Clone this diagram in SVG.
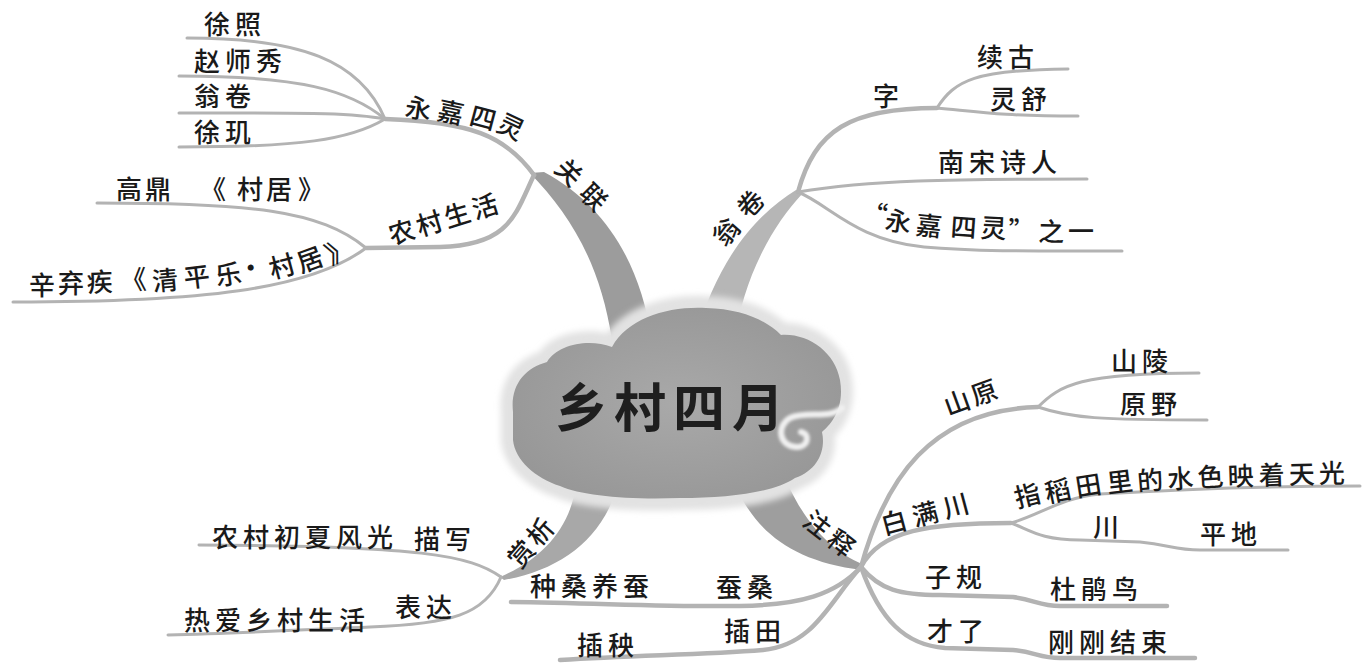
<svg xmlns="http://www.w3.org/2000/svg" width="1363" height="667" viewBox="0 0 1363 667">
<defs>
<style>
text { font-family: "Noto Sans CJK SC", "Noto Sans", sans-serif; fill: #1a1a1a; font-weight: 500; }
.t { font-size: 26px; letter-spacing: 5px; }
.main { font-size: 26px; }
.ln { fill: none; stroke: #b3b3b3; stroke-linecap: round; stroke-linejoin: round; }
.l1 { stroke-width: 4.5; }
.l2 { stroke-width: 3; }
.title { font-size: 52px; letter-spacing: 7px; fill: #1e1e1e; font-weight: 600; }
</style>
<radialGradient id="cg" cx="50%" cy="50%" r="60%">
<stop offset="0" stop-color="#a9a9a9"/>
<stop offset="1" stop-color="#969696"/>
</radialGradient>
<filter id="blur" x="-20%" y="-20%" width="140%" height="140%">
<feGaussianBlur stdDeviation="3"/>
</filter>
<filter id="blur2" x="-20%" y="-20%" width="140%" height="140%">
<feGaussianBlur stdDeviation="1.5"/>
</filter>
</defs>
<rect width="1363" height="667" fill="#ffffff"/>

<g id="connectors">
<!-- main tapered branches -->
<path fill="#9c9c9c" d="M530,173 C570,215 600,262 612,340 L652,340 C640,262 605,205 544,172 Z"/>
<path fill="#b6b6b6" d="M796,190 C760,212 718,255 695,340 L735,340 C742,285 768,230 803,193 Z"/>
<path fill="#9e9e9e" d="M728,465 C745,520 780,560 862,570 L862,564 C830,550 800,520 780,465 Z"/>
<path fill="#a8a8a8" d="M500,577 C540,560 570,530 576,485 L618,485 C602,540 560,570 504,580 Z"/>
<!-- 关联 sub-branches -->
<path class="ln l1" d="M534,175 C505,135 470,122 385,119"/>
<path class="ln l1" d="M534,175 C515,215 510,245 440,247 L366,248"/>
<path class="ln l2" d="M187,38 C300,38 360,60 385,119"/>
<path class="ln l2" d="M179,76 C300,76 350,90 385,119"/>
<path class="ln l2" d="M179,113 C300,113 350,112 385,119"/>
<path class="ln l2" d="M179,147 C300,147 350,140 385,119"/>
<path class="ln l2" d="M97,203 C250,203 320,210 366,248"/>
<path class="ln l2" d="M13,302 C200,302 310,290 366,248"/>
<!-- 翁卷 sub-branches -->
<path class="ln l1" d="M798,192 C815,130 850,108 937,108"/>
<path class="ln l2" d="M937,108 C955,80 975,70 1068,69"/>
<path class="ln l2" d="M937,108 C980,112 1000,116 1078,116"/>
<path class="ln l2" d="M798,192 C870,180 950,179 1087,179"/>
<path class="ln l2" d="M798,192 C830,205 855,240 924,247 C980,252 1050,251 1122,251"/>
<!-- 注释 sub-branches -->
<path class="ln l1" d="M861,567 C885,480 930,410 1038,407"/>
<path class="ln l2" d="M1038,407 C1060,385 1080,373 1199,373"/>
<path class="ln l2" d="M1038,407 C1070,418 1100,420 1207,420"/>
<path class="ln l1" d="M861,567 C880,530 930,523 1011,523"/>
<path class="ln l2" d="M1011,523 C1040,515 1060,498 1100,494 C1200,488 1280,486 1360,486"/>
<path class="ln l2" d="M1011,523 C1030,530 1040,540 1080,540 L1140,542 C1170,545 1175,550 1200,550 L1288,550"/>
<path class="ln l1" d="M861,567 C880,590 900,595 940,595 L1013,597 C1035,600 1040,606 1060,606 L1167,606"/>
<path class="ln l1" d="M861,567 C880,620 905,645 945,648 L1013,650 C1035,652 1040,658 1060,658 L1195,658"/>
<path class="ln l1" d="M861,567 C835,595 800,605 740,606 C660,607 600,603 511,602"/>
<path class="ln l1" d="M861,567 C830,600 815,645 763,650 C700,655 640,655 560,660"/>
<!-- 赏析 sub-branches -->
<path class="ln l2" d="M501,577 C470,555 420,546 199,545"/>
<path class="ln l2" d="M501,577 C485,615 450,624 370,627 C300,630 240,633 168,635"/>
</g>

<g id="center">
<path d="M513,412 C510,385 525,368 547,362 C557,345 588,338 612,347 C628,318 668,306 706,308 C742,309 766,320 781,335 C808,333 835,352 840,380 C845,410 830,425 822,432 C826,450 818,470 795,478 C775,492 730,498 680,498 C630,500 582,496 560,486 C535,478 515,460 513,440 Z" fill="#e2e2e2" stroke="#e2e2e2" stroke-width="24" stroke-linejoin="round" filter="url(#blur)"/>
<path d="M513,412 C510,385 525,368 547,362 C557,345 588,338 612,347 C628,318 668,306 706,308 C742,309 766,320 781,335 C808,333 835,352 840,380 C845,410 830,425 822,432 C826,450 818,470 795,478 C775,492 730,498 680,498 C630,500 582,496 560,486 C535,478 515,460 513,440 Z" fill="url(#cg)"/>
<path d="M842,408 C828,420 808,410 790,418 C776,426 779,446 796,447 C808,448 811,434 801,432" fill="none" stroke="#f0f0f0" stroke-width="6" stroke-linecap="round" filter="url(#blur2)"/>
<text class="title" x="555" y="427">乡村四月</text>
</g>

<g id="n-guanlian"><text class="main" letter-spacing="9" transform="translate(553,170) rotate(45)">关联</text></g>
<g id="n-yongjia"><text class="main" x="404 436 468 495" y="116 119 124 130" rotate="8 12 15 25">永嘉四灵</text></g>
<g id="n-xuzhao"><text class="t" x="204" y="34">徐照</text></g>
<g id="n-zhaoshixiu"><text class="t" x="194" y="71">赵师秀</text></g>
<g id="n-wengjuan2"><text class="t" x="194" y="106">翁卷</text></g>
<g id="n-xuji"><text class="t" x="194" y="142">徐玑</text></g>
<g id="n-nongcun"><text class="main" letter-spacing="3" transform="translate(392,245) rotate(-17)">农村生活</text></g>
<g id="n-gaoding"><text class="t" letter-spacing="0" x="116 145 172 200 237 266 298" y="199">高鼎 《村居》</text></g>
<g id="n-xinqiji"><text class="t" letter-spacing="0" x="29 58 87 121 153 185 217 240 272 301 331" y="295 293 292 290 291 288 286 280 279 273 265" rotate="0 0 -2 -3 -5 -7 -9 -12 -15 -20 -25">辛弃疾《清平乐·村居》</text></g>

<g id="n-wengjuan"><text class="main" letter-spacing="11" transform="translate(725,248) rotate(-49)">翁卷</text></g>
<g id="n-zi"><text class="t" x="873" y="106">字</text></g>
<g id="n-xugu"><text class="t" x="977" y="67">续古</text></g>
<g id="n-lingshu"><text class="t" x="990" y="109">灵舒</text></g>
<g id="n-nansong"><text class="t" x="938" y="172">南宋诗人</text></g>
<g id="n-zhiyi"><text class="t" letter-spacing="0" x="860 884 915 950 980 1008 1038 1068" y="222 229 234 236 237 240 241 241" rotate="8 8 6 4 3 2 1 0">“永嘉四灵”之一</text></g>

<g id="n-zhushi"><text class="main" letter-spacing="4.6" transform="translate(801,524) rotate(38)">注释</text></g>
<g id="n-shanyuan"><text class="main" letter-spacing="3" transform="translate(948,416) rotate(-20)">山原</text></g>
<g id="n-shanling"><text class="t" x="1111" y="371">山陵</text></g>
<g id="n-yuanye"><text class="t" x="1120" y="414">原野</text></g>
<g id="n-baimanchuan"><text class="main" letter-spacing="6" transform="translate(884,535) rotate(-15)">白满川</text></g>
<g id="n-zhidao"><text class="t" letter-spacing="0" x="1017 1047 1077 1108 1138 1168 1198 1228 1259 1289 1319" y="508 503 497 493 491 489 487 486 485 484 483" rotate="-14 -12 -9 -7 -5 -4 -3 -2 -2 -1 -1">指稻田里的水色映着天光</text></g>
<g id="n-chuan"><text class="t" x="1093" y="537">川</text></g>
<g id="n-pingdi"><text class="t" x="1200" y="544">平地</text></g>
<g id="n-zigui"><text class="t" x="925" y="587">子规</text></g>
<g id="n-dujuan"><text class="t" x="1050" y="599">杜鹃鸟</text></g>
<g id="n-cailiao"><text class="t" x="927" y="641">才了</text></g>
<g id="n-ganggang"><text class="t" x="1048" y="652">刚刚结束</text></g>
<g id="n-cansang"><text class="t" x="716" y="597">蚕桑</text></g>
<g id="n-zhongsang"><text class="t" letter-spacing="3" x="530" y="596">种桑养蚕</text></g>
<g id="n-chatian"><text class="t" x="724" y="641">插田</text></g>
<g id="n-chayang"><text class="t" x="577" y="655">插秧</text></g>

<g id="n-shangxi"><text class="main" letter-spacing="3" transform="translate(520,570) rotate(-49)">赏析</text></g>
<g id="n-miaoxie"><text class="t" x="414" y="549">描写</text></g>
<g id="n-fengguang"><text class="t" x="212" y="547">农村初夏风光</text></g>
<g id="n-biaoda"><text class="t" x="395" y="617">表达</text></g>
<g id="n-reai"><text class="t" x="184" y="630">热爱乡村生活</text></g>
</svg>
